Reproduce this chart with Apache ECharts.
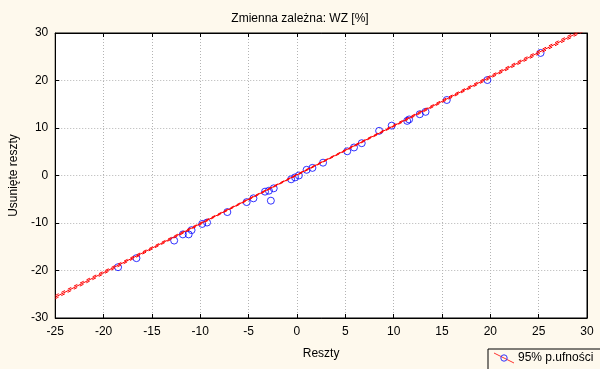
<!DOCTYPE html>
<html><head><meta charset="utf-8">
<script src="https://cdn.jsdelivr.net/npm/echarts@6/dist/echarts.min.js"></script>
<style>html,body{margin:0;padding:0;background:#FEF9ED;}#c{width:600px;height:369px;}</style>
</head><body><div id="c"></div>
<script>
// Observed residuals (x) vs deleted residuals (y)
const resX = [-18.5, -16.6, -12.7, -11.8, -11.2, -10.9, -9.8, -9.3, -7.2, -5.2, -4.5, -3.3, -2.9, -2.4, -2.7, -0.6, -0.2, 0.2, 1.0, 1.6, 2.7, 5.2, 5.9, 6.7, 8.5, 9.8, 11.4, 11.6, 12.7, 13.3, 15.5, 19.7, 25.2];
const resY = [-19.3, -17.4, -13.7, -12.4, -12.4, -11.5, -10.2, -9.9, -7.7, -5.6, -4.8, -3.4, -3.2, -2.7, -5.3, -0.8, -0.4, 0.0, 1.2, 1.6, 2.7, 5.1, 5.9, 6.8, 9.4, 10.5, 11.5, 11.8, 12.9, 13.4, 15.9, 20.1, 25.8];
// Regression line and 95% confidence band
const fitX = [-25, 30];
const fitY = [-25.6, 31.05];
const bandX = [-25, -15, -5, 0, 5, 15, 30];
const bandUpper = [-25.25, -15.08, -4.88, 0.27, 5.42, 15.82, 31.4];
const bandLower = [-25.95, -15.52, -5.12, 0.03, 5.18, 15.38, 30.7];
const xTicks = [-25, 30, 5];
const yTicks = [-30, 30, 10];
const titleText = 'Zmienna zależna: WZ [%]';
const xName = 'Reszty';
const yName = 'Usunięte reszty';
const legendName = '95% p.ufności';

const font = 'Liberation Sans, Arial, sans-serif';
const zip = (a, b) => a.map((v, i) => [v, b[i]]);
const iconSvg = 'data:image/svg+xml;utf8,' + encodeURIComponent(
  '<svg xmlns="http://www.w3.org/2000/svg" width="22" height="12"><line x1="1" y1="1" x2="21" y2="11" stroke="red" stroke-width="1"/><circle cx="11" cy="6" r="3.2" fill="none" stroke="blue" stroke-width="1"/></svg>');

const axX = (pos, show) => ({
  type: 'value', position: pos, min: xTicks[0], max: xTicks[1], interval: xTicks[2],
  axisLine: {show: true, onZero: false, lineStyle: {color: '#000', width: 1}},
  axisTick: {show: true, inside: true, length: 4, lineStyle: {color: '#000'}},
  axisLabel: {show: show, color: '#000', fontSize: 12, fontFamily: font, margin: 8},
  splitLine: {show: show, lineStyle: {color: '#b4b4b4', type: [1, 2]}},
  name: show ? xName : '', nameLocation: 'middle', nameGap: 30,
  nameTextStyle: {color: '#000', fontSize: 12, fontFamily: font}
});
const axY = (pos, show) => ({
  type: 'value', position: pos, min: yTicks[0], max: yTicks[1], interval: yTicks[2],
  axisLine: {show: true, onZero: false, lineStyle: {color: '#000', width: 1}},
  axisTick: {show: true, inside: true, length: 4, lineStyle: {color: '#000'}},
  axisLabel: {show: show, color: '#000', fontSize: 12, fontFamily: font, margin: 7},
  splitLine: {show: show, lineStyle: {color: '#b4b4b4', type: [1, 2]}},
  name: show ? yName : '', nameLocation: 'middle', nameGap: 30,
  nameTextStyle: {color: '#000', fontSize: 12, fontFamily: font}
});

const chart = echarts.init(document.getElementById('c'), null, {renderer: 'canvas'});
chart.setOption({
  backgroundColor: '#FEF9ED',
  animation: false,
  title: {text: titleText, left: 'center', top: 8, textStyle: {color: '#000', fontSize: 12, fontWeight: 'normal', fontFamily: font}},
  grid: {left: 52, right: 13, top: 33, bottom: 51, show: true, backgroundColor: '#fff', borderColor: '#000', borderWidth: 1},
  xAxis: [axX('bottom', true), axX('top', false)],
  yAxis: [axY('left', true), axY('right', false)],
  legend: {
    left: 488, top: 349, padding: [3, 20, 6, 5], itemGap: 0,
    borderColor: '#000', borderWidth: 1, backgroundColor: '#FEF9ED', borderRadius: 0,
    itemWidth: 22, itemHeight: 12,
    textStyle: {color: '#000', fontSize: 12, fontFamily: font, padding: [0, 0, 0, -2]},
    data: [{name: legendName, icon: 'image://' + iconSvg}]
  },
  series: [
    {name: legendName, type: 'scatter', data: zip(resX, resY), symbol: 'circle', symbolSize: 7, z: 2,
     itemStyle: {color: 'rgba(0,0,0,0)', borderColor: '#0000ff', borderWidth: 1}},
    {name: 'fit', type: 'line', data: zip(fitX, fitY), symbol: 'none', clip: true, z: 3,
     lineStyle: {color: '#ff0000', width: 1}},
    {name: 'upper', type: 'line', data: zip(bandX, bandUpper), smooth: true, symbol: 'none', clip: true, z: 3,
     lineStyle: {color: '#ff0000', width: 1, type: [4, 3]}},
    {name: 'lower', type: 'line', data: zip(bandX, bandLower), smooth: true, symbol: 'none', clip: true, z: 3,
     lineStyle: {color: '#ff0000', width: 1, type: [4, 3]}}
  ]
});
</script></body></html>
